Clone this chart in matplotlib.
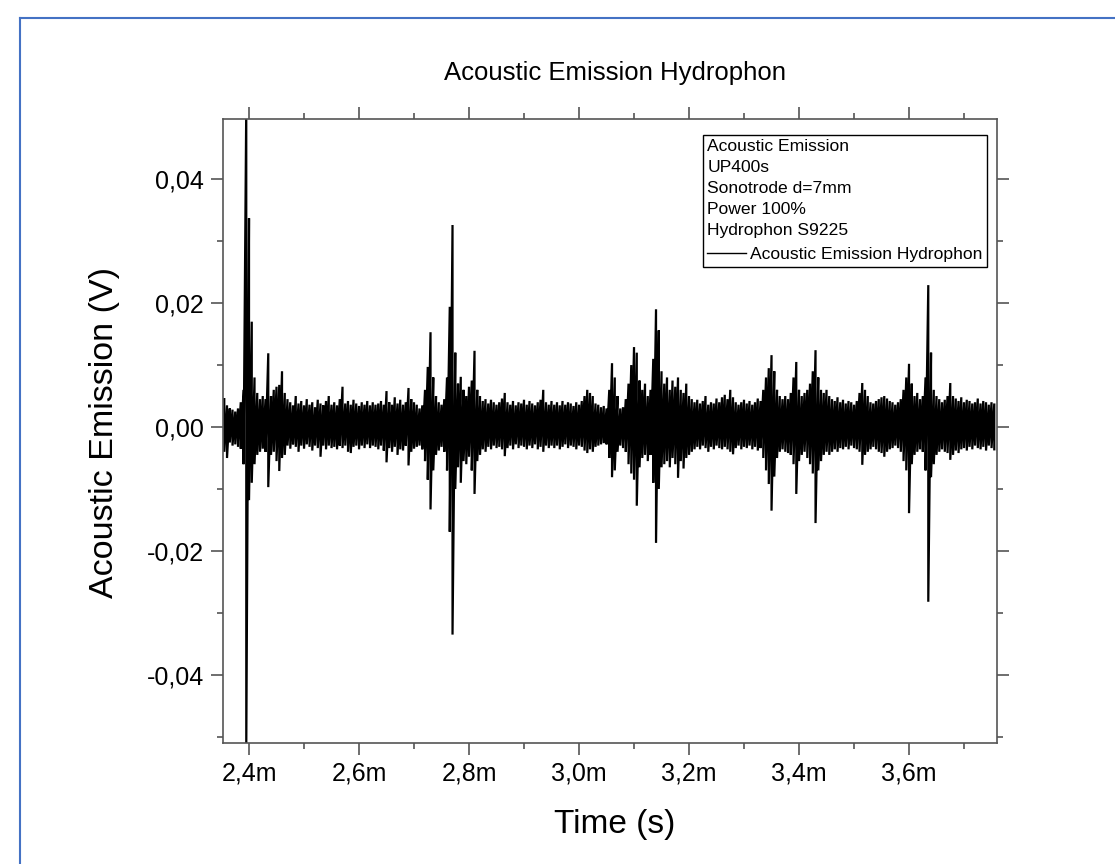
import numpy as np
import matplotlib
matplotlib.use("Agg")
import matplotlib.pyplot as plt
from matplotlib.ticker import MultipleLocator, FuncFormatter
from matplotlib.lines import Line2D

plt.rcParams['font.family'] = ['Liberation Sans', 'DejaVu Sans']

# Dados: amostras da envoltória do sinal (tempo em ms, amplitude em V)
t_ms = np.linspace(2.355, 3.755, 281)

env_hi = [
    0.0045, 0.0035, 0.0030, 0.0028, 0.0025, 0.0030, 0.0040, 0.0060, 0.0520, 0.0337,
    0.0170, 0.0080, 0.0055, 0.0045, 0.0050, 0.0045, 0.0119, 0.0050, 0.0060, 0.0065,
    0.0068, 0.0090, 0.0055, 0.0045, 0.0040, 0.0035, 0.0050, 0.0038, 0.0042, 0.0035,
    0.0045, 0.0036, 0.0040, 0.0032, 0.0044, 0.0038, 0.0035, 0.0042, 0.0050, 0.0036,
    0.0040, 0.0035, 0.0045, 0.0065, 0.0038, 0.0042, 0.0036, 0.0044, 0.0038, 0.0034,
    0.0040, 0.0036, 0.0042, 0.0035, 0.0040, 0.0036, 0.0038, 0.0042, 0.0036, 0.0058,
    0.0040, 0.0036, 0.0048, 0.0038, 0.0044, 0.0036, 0.0040, 0.0063, 0.0045, 0.0040,
    0.0036, 0.0030, 0.0035, 0.0060, 0.0097, 0.0153, 0.0080, 0.0050, 0.0040, 0.0036,
    0.0045, 0.0080, 0.0194, 0.0326, 0.0120, 0.0070, 0.0081, 0.0060, 0.0050, 0.0065,
    0.0075, 0.0123, 0.0060, 0.0050, 0.0042, 0.0045, 0.0038, 0.0044, 0.0040, 0.0036,
    0.0040, 0.0046, 0.0055, 0.0040, 0.0036, 0.0042, 0.0035, 0.0040, 0.0038, 0.0044,
    0.0036, 0.0042, 0.0038, 0.0035, 0.0040, 0.0044, 0.0060, 0.0040, 0.0036, 0.0042,
    0.0036, 0.0040, 0.0035, 0.0042, 0.0036, 0.0040, 0.0038, 0.0034, 0.0040, 0.0036,
    0.0042, 0.0050, 0.0060, 0.0055, 0.0050, 0.0038, 0.0036, 0.0032, 0.0034, 0.0030,
    0.0060, 0.0103, 0.0080, 0.0050, 0.0030, 0.0032, 0.0045, 0.0070, 0.0100, 0.0129,
    0.0120, 0.0075, 0.0060, 0.0070, 0.0050, 0.0060, 0.0110, 0.0190, 0.0156, 0.0090,
    0.0070, 0.0080, 0.0060, 0.0075, 0.0065, 0.0080, 0.0060, 0.0055, 0.0070, 0.0050,
    0.0045, 0.0040, 0.0044, 0.0038, 0.0042, 0.0050, 0.0036, 0.0040, 0.0038, 0.0046,
    0.0040, 0.0048, 0.0052, 0.0045, 0.0060, 0.0048, 0.0040, 0.0036, 0.0040, 0.0044,
    0.0038, 0.0042, 0.0036, 0.0040, 0.0046, 0.0042, 0.0060, 0.0080, 0.0095, 0.0116,
    0.0090, 0.0060, 0.0050, 0.0045, 0.0050, 0.0045, 0.0055, 0.0080, 0.0105, 0.0060,
    0.0050, 0.0055, 0.0060, 0.0070, 0.0090, 0.0124, 0.0080, 0.0060, 0.0055, 0.0060,
    0.0050, 0.0045, 0.0042, 0.0048, 0.0040, 0.0044, 0.0038, 0.0042, 0.0040, 0.0036,
    0.0042, 0.0055, 0.0071, 0.0060, 0.0050, 0.0040, 0.0038, 0.0042, 0.0045, 0.0048,
    0.0050, 0.0046, 0.0042, 0.0040, 0.0036, 0.0040, 0.0045, 0.0060, 0.0080, 0.0102,
    0.0070, 0.0050, 0.0055, 0.0045, 0.0050, 0.0080, 0.0229, 0.0120, 0.0060, 0.0050,
    0.0045, 0.0040, 0.0044, 0.0050, 0.0071, 0.0050, 0.0046, 0.0042, 0.0048, 0.0040,
    0.0044, 0.0042, 0.0038, 0.0040, 0.0046, 0.0038, 0.0042, 0.0040, 0.0036, 0.0040,
    0.0038,
]

env_lo = [
    -0.0040, -0.0050, -0.0025, -0.0030, -0.0028, -0.0032, -0.0035, -0.0060, -0.0520, -0.0118,
    -0.0090, -0.0060, -0.0045, -0.0040, -0.0035, -0.0040, -0.0097, -0.0045, -0.0040, -0.0055,
    -0.0071, -0.0050, -0.0045, -0.0030, -0.0035, -0.0028, -0.0032, -0.0040, -0.0030, -0.0035,
    -0.0028, -0.0032, -0.0038, -0.0030, -0.0034, -0.0048, -0.0030, -0.0036, -0.0030, -0.0034,
    -0.0032, -0.0036, -0.0030, -0.0034, -0.0030, -0.0040, -0.0042, -0.0032, -0.0030, -0.0036,
    -0.0030, -0.0034, -0.0028, -0.0034, -0.0030, -0.0032, -0.0036, -0.0030, -0.0038, -0.0057,
    -0.0034, -0.0040, -0.0032, -0.0045, -0.0036, -0.0038, -0.0030, -0.0062, -0.0040, -0.0035,
    -0.0032, -0.0030, -0.0036, -0.0055, -0.0085, -0.0133, -0.0070, -0.0045, -0.0038, -0.0032,
    -0.0040, -0.0070, -0.0169, -0.0335, -0.0100, -0.0065, -0.0090, -0.0055, -0.0060, -0.0048,
    -0.0070, -0.0108, -0.0055, -0.0045, -0.0036, -0.0040, -0.0032, -0.0036, -0.0030, -0.0034,
    -0.0032, -0.0036, -0.0047, -0.0034, -0.0030, -0.0036, -0.0028, -0.0034, -0.0030, -0.0032,
    -0.0036, -0.0030, -0.0034, -0.0028, -0.0036, -0.0032, -0.0040, -0.0030, -0.0034, -0.0030,
    -0.0034, -0.0030, -0.0036, -0.0032, -0.0028, -0.0034, -0.0030, -0.0032, -0.0036, -0.0030,
    -0.0032, -0.0038, -0.0042, -0.0036, -0.0040, -0.0032, -0.0030, -0.0028, -0.0026, -0.0028,
    -0.0050, -0.0081, -0.0070, -0.0040, -0.0030, -0.0034, -0.0040, -0.0060, -0.0075, -0.0085,
    -0.0127, -0.0065, -0.0050, -0.0045, -0.0055, -0.0045, -0.0090, -0.0187, -0.0100, -0.0065,
    -0.0060, -0.0055, -0.0065, -0.0050, -0.0060, -0.0082, -0.0055, -0.0067, -0.0050, -0.0045,
    -0.0040, -0.0036, -0.0032, -0.0036, -0.0030, -0.0034, -0.0040, -0.0032, -0.0036, -0.0030,
    -0.0034, -0.0036, -0.0032, -0.0036, -0.0040, -0.0044, -0.0034, -0.0030, -0.0036, -0.0032,
    -0.0034, -0.0030, -0.0036, -0.0032, -0.0038, -0.0034, -0.0050, -0.0070, -0.0092, -0.0135,
    -0.0080, -0.0050, -0.0040, -0.0036, -0.0040, -0.0042, -0.0045, -0.0060, -0.0108, -0.0055,
    -0.0045, -0.0040, -0.0050, -0.0060, -0.0075, -0.0155, -0.0070, -0.0055, -0.0045, -0.0040,
    -0.0045, -0.0040, -0.0036, -0.0040, -0.0034, -0.0036, -0.0032, -0.0036, -0.0030, -0.0034,
    -0.0036, -0.0040, -0.0061, -0.0045, -0.0040, -0.0036, -0.0032, -0.0036, -0.0040, -0.0042,
    -0.0048, -0.0040, -0.0036, -0.0034, -0.0030, -0.0034, -0.0040, -0.0055, -0.0070, -0.0139,
    -0.0060, -0.0045, -0.0040, -0.0036, -0.0040, -0.0070, -0.0282, -0.0081, -0.0060, -0.0045,
    -0.0040, -0.0036, -0.0040, -0.0042, -0.0053, -0.0045, -0.0038, -0.0042, -0.0036, -0.0034,
    -0.0038, -0.0032, -0.0036, -0.0030, -0.0034, -0.0036, -0.0032, -0.0038, -0.0030, -0.0034,
    -0.0036,
]

titulo = "Acoustic Emission Hydrophon"
info = "Acoustic Emission\nUP400s\nSonotrode d=7mm\nPower 100%\nHydrophon S9225"

# forma de onda: alterna entre picos positivos e negativos
t_wave = np.repeat(t_ms, 2)
v_wave = np.column_stack([env_hi, env_lo]).ravel()

fig = plt.figure(figsize=(11.15, 8.64), dpi=100)
ax = fig.add_axes([0.2, 0.14, 0.6942, 0.7222])

ax.plot(t_wave, v_wave, color='black', lw=1.6, solid_joinstyle='miter',
        label="Acoustic Emission Hydrophon")

ax.set_xlim(2.3527, 3.76)
ax.set_ylim(-0.051, 0.0497)

ax.xaxis.set_major_locator(MultipleLocator(0.2))
ax.xaxis.set_minor_locator(MultipleLocator(0.1))
ax.yaxis.set_major_locator(MultipleLocator(0.02))
ax.yaxis.set_minor_locator(MultipleLocator(0.01))
ax.xaxis.set_major_formatter(FuncFormatter(lambda v, p: f"{v:.1f}m".replace('.', ',')))
ax.yaxis.set_major_formatter(FuncFormatter(lambda v, p: f"{v:.2f}".replace('.', ',')))

cor_eixo = '#555555'
for s in ax.spines.values():
    s.set_color(cor_eixo)
    s.set_linewidth(1.2)
ax.tick_params(which='both', direction='out', top=True, right=True, color=cor_eixo, width=1.2)
ax.tick_params(which='major', length=8.6, labelsize=18, pad=5)
ax.tick_params(which='minor', length=4.3)

# Títulos e rótulos
fig.text(615 / 1115, 1 - 73 / 864, titulo, ha='center', va='center', fontsize=18.5)
fig.text(615 / 1115, 1 - 825 / 864, "Time (s)", ha='center', va='center', fontsize=24)
fig.text(105 / 1115, 1 - 433 / 864, "Acoustic Emission (V)", ha='center', va='center',
         rotation=90, fontsize=24.5)

leg = ax.legend(loc='upper right', bbox_to_anchor=(0.9871, 0.9744), borderaxespad=0,
                title=info, alignment='left', fontsize=12.6, title_fontsize=12.6,
                fancybox=False, edgecolor='black', handlelength=2.2, handletextpad=0.25,
                borderpad=0.25, framealpha=1)
leg.get_frame().set_linewidth(1.0)
leg.get_title().set_linespacing(1.5)
leg.get_lines()[0].set_linewidth(1.0)

# moldura azul (topo e esquerda)
azul = '#4472c4'
fig.add_artist(Line2D([20 / 1115, 20 / 1115], [0, 1 - 18 / 864], transform=fig.transFigure,
                      color=azul, lw=1.5))
fig.add_artist(Line2D([20 / 1115, 1], [1 - 18 / 864, 1 - 18 / 864], transform=fig.transFigure,
                      color=azul, lw=1.5))

fig.savefig("out.png", dpi=100)
